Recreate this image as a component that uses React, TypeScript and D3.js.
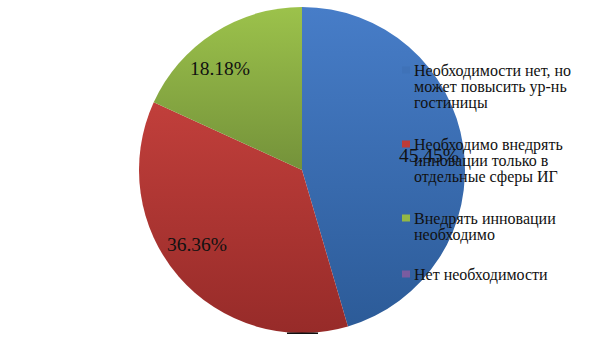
import React from "react";
import * as d3 from "d3";

const categories = [
  "Необходимости нет, но может повысить ур-нь гостиницы",
  "Необходимо внедрять инновации только в отдельные сферы ИГ",
  "Внедрять инновации необходимо",
  "Нет необходимости",
];
const legendLines = [
  ["Необходимости нет, но", "может повысить ур-нь", "гостиницы"],
  ["Необходимо внедрять", "инновации только в", "отдельные сферы ИГ"],
  ["Внедрять инновации", "необходимо"],
  ["Нет необходимости"],
];
const values = [45.45, 36.36, 18.18, 0];
const labels = ["45.45%", "36.36%", "18.18%", ""];
const colorsTop = ["#477dc8", "#c13f3b", "#9cc24b", "#8064a2"];
const colorsBottom = ["#2c5b98", "#972b29", "#74923a", "#5f497a"];
const markerColors = ["#3f72b8", "#be3b37", "#93b845", "#7a5ca0"];

export default function App() {
  const W = 605, H = 340;
  const cx = 302, cy = 170, r = 163;
  const pie = d3.pie<number>().value((d) => d).sort(null);
  const arcs = pie(values);
  const arc = d3.arc<d3.PieArcDatum<number>>().innerRadius(0).outerRadius(r);
  const labelPos: [number, number][] = [
    [429, 155],
    [197, 244],
    [220, 68],
    [0, 0],
  ];
  const legendTops = [70, 144, 218, 274];
  const font = "Liberation Serif, DejaVu Serif, serif";
  return (
    <svg width={W} height={H} style={{ position: "absolute", left: 0, top: 0, background: "#fff" }}>
      <defs>
        {colorsTop.map((c, i) => (
          <linearGradient key={i} id={`g${i}`} x1="0" y1="0" x2="0" y2="1">
            <stop offset="0%" stopColor={c} />
            <stop offset="100%" stopColor={colorsBottom[i]} />
          </linearGradient>
        ))}
      </defs>
      <g transform={`translate(${cx},${cy})`}>
        {arcs.map((a, i) =>
          a.endAngle - a.startAngle > 0 ? (
            <path key={i} d={arc(a) || ""} fill={`url(#g${i})`} />
          ) : null
        )}
      </g>
      <rect x={287} y={332.5} width={31} height={1.5} fill="#111" />
      {labels.map((l, i) =>
        l ? (
          <text
            key={i}
            x={labelPos[i][0]}
            y={labelPos[i][1]}
            textAnchor="middle"
            dominantBaseline="central"
            style={{ fontFamily: font, fontSize: 19.5 }}
            fill="#111"
          >
            {l}
          </text>
        ) : null
      )}
      {categories.map((c, i) => (
        <g key={c}>
          <rect x={402} y={legendTops[i] - 3.5} width={8} height={7} fill={markerColors[i]} />
          {legendLines[i].map((ln, j) => (
            <text
              key={j}
              x={414}
              y={legendTops[i] + j * 16.3}
              dominantBaseline="central"
              style={{ fontFamily: font, fontSize: 16 }}
              fill="#111"
            >
              {ln}
            </text>
          ))}
        </g>
      ))}
    </svg>
  );
}
